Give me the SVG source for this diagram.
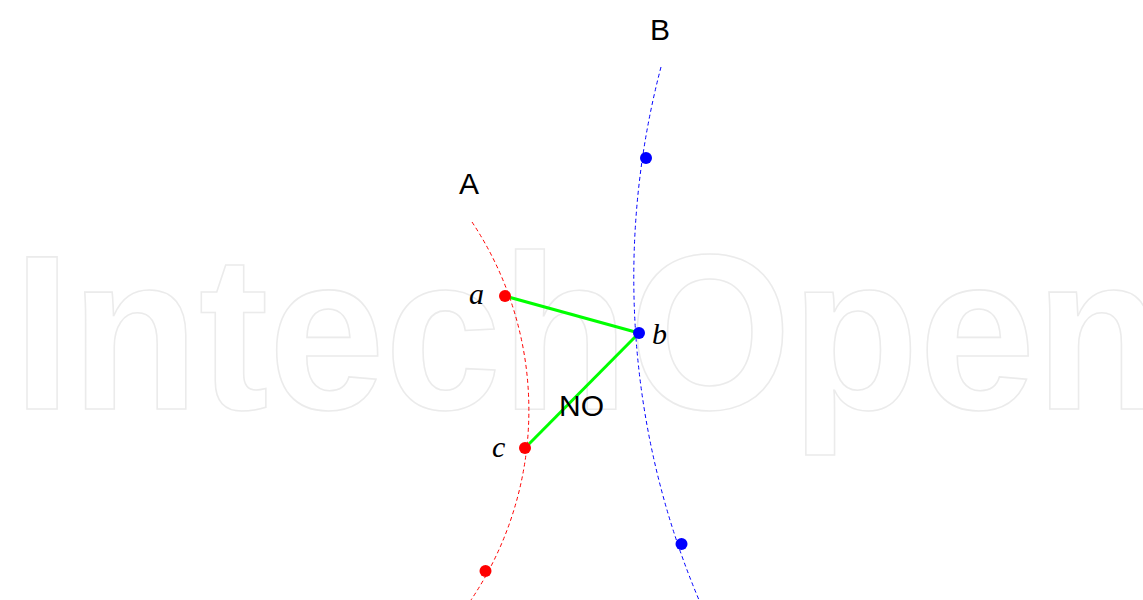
<svg xmlns="http://www.w3.org/2000/svg" width="1143" height="600" viewBox="0 0 1143 600">
<style>
.wm{font-family:"Liberation Sans",Arial,sans-serif;font-weight:bold;font-size:221px;fill:none;stroke:#ebebeb;stroke-width:1.6}
.curveA{fill:none;stroke:#ff0000;stroke-width:1;stroke-dasharray:4 3}
.curveB{fill:none;stroke:#0000ff;stroke-width:1;stroke-dasharray:4 3}
.edge{stroke:#00ff00;stroke-width:3;fill:none}
.red{fill:#ff0000}
.blue{fill:#0000ff}
.it{font-family:"Liberation Serif","Times New Roman",serif;font-style:italic;font-size:30px;fill:#000}
.sans{font-family:"Liberation Sans",Arial,sans-serif;font-size:30px;fill:#000}
</style>
<rect width="1143" height="600" fill="#fff"/>
<text class="wm" x="13" y="409" textLength="1150" lengthAdjust="spacingAndGlyphs">IntechOpen</text>
<g id="curves">
<path class="curveA" d="M472,222 A340,340 0 0 1 471,600"/>
<path class="curveB" d="M661,67 A829,829 0 0 0 699,600"/>
</g>
<g id="connectors">
<line class="edge" x1="505" y1="296" x2="639" y2="333"/>
<line class="edge" x1="639" y1="333" x2="525" y2="448"/>
</g>
<g id="node-a"><circle class="red" cx="505" cy="296" r="6"/><text class="it" x="469" y="304">a</text></g>
<g id="node-b"><circle class="blue" cx="639" cy="333" r="6"/><text class="it" x="652" y="344">b</text></g>
<g id="node-c"><circle class="red" cx="525" cy="448" r="6"/><text class="it" x="492" y="457">c</text></g>
<g id="node-red2"><circle class="red" cx="485.5" cy="571" r="6"/></g>
<g id="node-blue1"><circle class="blue" cx="646" cy="158" r="6"/></g>
<g id="node-blue2"><circle class="blue" cx="681.5" cy="544" r="6"/></g>
<g id="label-A"><text class="sans" x="459" y="194">A</text></g>
<g id="label-B"><text class="sans" x="650" y="40">B</text></g>
<g id="label-NO"><text class="sans" x="559" y="416">NO</text></g>
</svg>
